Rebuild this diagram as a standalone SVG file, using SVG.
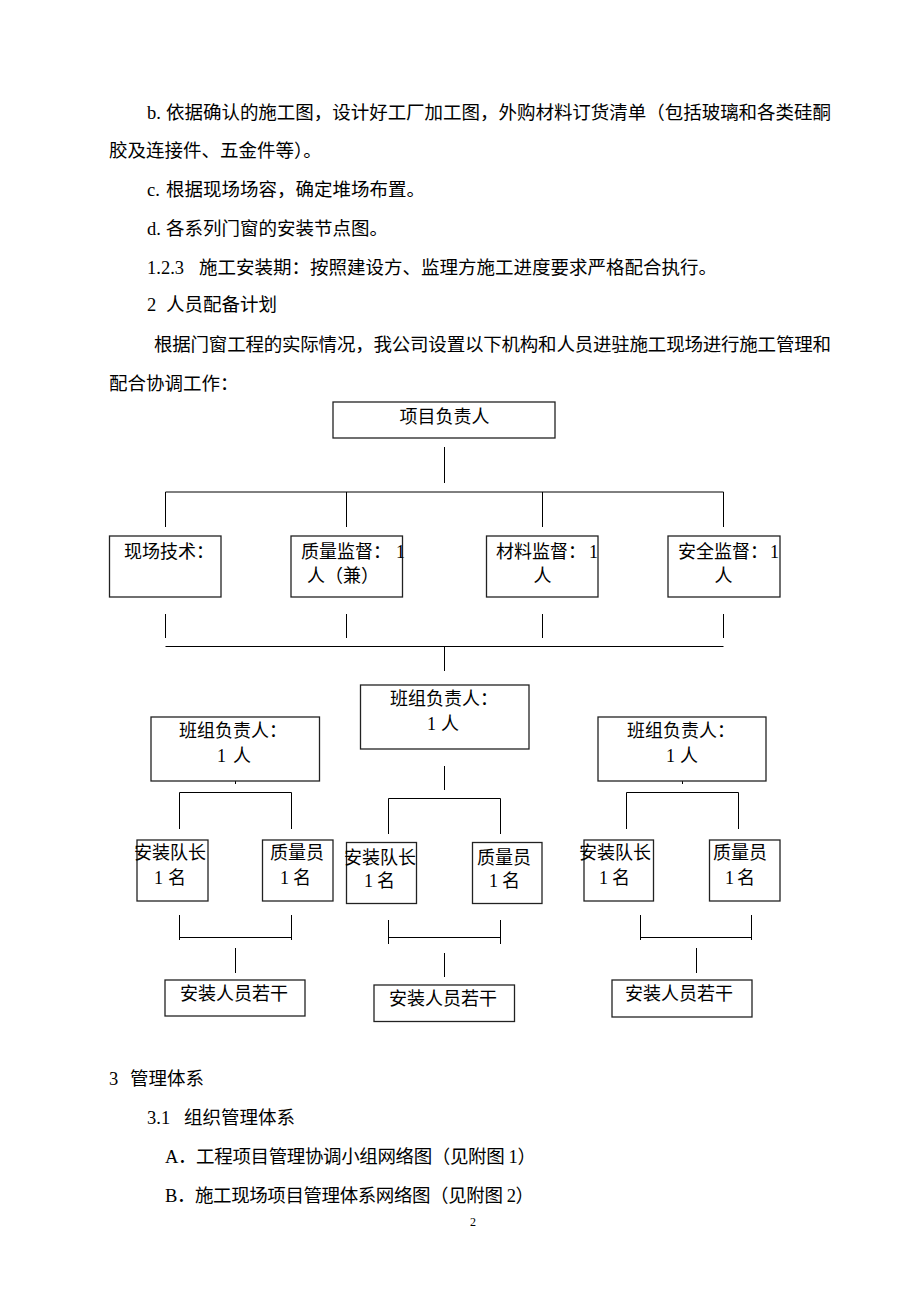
<svg xmlns="http://www.w3.org/2000/svg" width="920" height="1302" viewBox="0 0 920 1302">
<style>
.t{font-family:"Liberation Serif","Noto Sans CJK SC",serif;font-size:18.5px;fill:#000}
.c{font-family:"Liberation Serif","Noto Sans CJK SC",serif;font-size:18px;fill:#000}
.m{text-anchor:middle}
.box{fill:#fff;stroke:#222;stroke-width:1.3}
.ln{fill:none;stroke:#000;stroke-width:1}
</style>
<rect width="920" height="1302" fill="#fff"/>
<g id="body-text">
<text class="t" y="119"><tspan x="147">b.</tspan><tspan x="166" textLength="665" lengthAdjust="spacing">依据确认的施工图，设计好工厂加工图，外购材料订货清单（包括玻璃和各类硅酮</tspan></text>
<text class="t" x="109" y="157">胶及连接件、五金件等）。</text>
<text class="t" y="196"><tspan x="147">c.</tspan><tspan x="166">根据现场场容，确定堆场布置。</tspan></text>
<text class="t" y="235"><tspan x="147">d.</tspan><tspan x="166">各系列门窗的安装节点图。</tspan></text>
<text class="t" y="274"><tspan x="147">1.2.3</tspan><tspan x="199">施工安装期：按照建设方、监理方施工进度要求严格配合执行。</tspan></text>
<text class="t" y="311"><tspan x="147">2</tspan><tspan x="166">人员配备计划</tspan></text>
<text class="t" x="154" y="351" textLength="677" lengthAdjust="spacing">根据门窗工程的实际情况，我公司设置以下机构和人员进驻施工现场进行施工管理和</text>
<text class="t" x="109" y="390">配合协调工作：</text>
</g>
<g id="connectors">
<path class="ln" d="M444.5 447V483"/>
<path class="ln" d="M165.5 492H723.5"/>
<path class="ln" d="M165.5 492V527M346.5 492V527M542.5 492V527M723.5 492V527"/>
<path class="ln" d="M165.5 614V638M346.5 614V638M542.5 614V638M723.5 614V638"/>
<path class="ln" d="M165.5 646.5H723.5"/>
<path class="ln" d="M444.5 646.5V671"/>
<path class="ln" d="M235.5 760V784"/>
<path class="ln" d="M179.5 829V792.5H291.5V829"/>
<path class="ln" d="M444.5 766V790"/>
<path class="ln" d="M388.5 834V798.5H500.5V834"/>
<path class="ln" d="M682.5 760V784"/>
<path class="ln" d="M626.5 829V792.5H738.5V829"/>
<path class="ln" d="M179.5 915V940M291.5 915V940M179.5 937.5H291.5"/>
<path class="ln" d="M388.5 920V944M500.5 920V944M388.5 937.5H500.5"/>
<path class="ln" d="M640.5 915V940M751.5 915V940M640.5 937.5H751.5"/>
<path class="ln" d="M235.5 948V973"/>
<path class="ln" d="M444.5 953V977"/>
<path class="ln" d="M696.5 948V973"/>
</g>
<g id="n-xmfzr">
<rect class="box" x="333" y="402" width="222" height="36"/>
<text class="c m" x="444.5" y="423">项目负责人</text>
</g>
<g id="n-xcjs">
<rect class="box" x="109.5" y="536" width="111.5" height="61"/>
<text class="c" x="124" y="558">现场技术：</text>
</g>
<g id="n-zljd">
<rect class="box" x="291" y="536" width="111.5" height="61"/>
<text class="c" y="558"><tspan x="301">质量监督：</tspan><tspan x="396">1</tspan></text>
<text class="c m" x="343" y="582">人（兼）</text>
</g>
<g id="n-cljd">
<rect class="box" x="486.5" y="536" width="111.5" height="61"/>
<text class="c" y="558"><tspan x="496">材料监督：</tspan><tspan x="589">1</tspan></text>
<text class="c m" x="542.5" y="582">人</text>
</g>
<g id="n-aqjd">
<rect class="box" x="668" y="536" width="112" height="61"/>
<text class="c" y="558"><tspan x="678">安全监督：</tspan><tspan x="770">1</tspan></text>
<text class="c m" x="723.5" y="582">人</text>
</g>
<g id="n-bz-center">
<rect class="box" x="360.5" y="685" width="168.5" height="64"/>
<text class="c" x="390" y="705">班组负责人：</text>
<text class="c" y="730"><tspan x="427">1</tspan><tspan x="441">人</tspan></text>
</g>
<g id="n-bz-left">
<rect class="box" x="151" y="717" width="168.5" height="64"/>
<text class="c" x="179" y="737">班组负责人：</text>
<text class="c" y="762"><tspan x="217">1</tspan><tspan x="233">人</tspan></text>
</g>
<g id="n-bz-right">
<rect class="box" x="598" y="717" width="168" height="64"/>
<text class="c" x="627" y="737">班组负责人：</text>
<text class="c" y="762"><tspan x="666">1</tspan><tspan x="680">人</tspan></text>
</g>
<g id="n-dz-left">
<rect class="box" x="137" y="840" width="71" height="61"/>
<text class="c" x="134" y="859">安装队长</text>
<text class="c" y="884"><tspan x="154">1</tspan><tspan x="168">名</tspan></text>
</g>
<g id="n-zly-left">
<rect class="box" x="262.5" y="840" width="70.5" height="61"/>
<text class="c" x="270" y="859">质量员</text>
<text class="c" y="884"><tspan x="280">1</tspan><tspan x="293">名</tspan></text>
</g>
<g id="n-dz-center">
<rect class="box" x="346.5" y="842.5" width="70" height="61"/>
<text class="c" x="344" y="864">安装队长</text>
<text class="c" y="887"><tspan x="364">1</tspan><tspan x="377">名</tspan></text>
</g>
<g id="n-zly-center">
<rect class="box" x="472.5" y="842.5" width="69.5" height="61"/>
<text class="c" x="477" y="864">质量员</text>
<text class="c" y="887"><tspan x="489">1</tspan><tspan x="502">名</tspan></text>
</g>
<g id="n-dz-right">
<rect class="box" x="584" y="840" width="69.5" height="61"/>
<text class="c" x="579" y="859">安装队长</text>
<text class="c" y="884"><tspan x="599">1</tspan><tspan x="612">名</tspan></text>
</g>
<g id="n-zly-right">
<rect class="box" x="709.5" y="840" width="70.5" height="61"/>
<text class="c" x="713" y="859">质量员</text>
<text class="c" y="884"><tspan x="725">1</tspan><tspan x="737">名</tspan></text>
</g>
<g id="n-ry-left">
<rect class="box" x="165" y="980" width="140" height="36"/>
<text class="c" x="180" y="1000">安装人员若干</text>
</g>
<g id="n-ry-center">
<rect class="box" x="374" y="985" width="140.5" height="36.5"/>
<text class="c" x="389" y="1005">安装人员若干</text>
</g>
<g id="n-ry-right">
<rect class="box" x="612" y="980" width="140" height="37"/>
<text class="c" x="625" y="1000">安装人员若干</text>
</g>
<g id="footer-text">
<text class="t" y="1085"><tspan x="109">3</tspan><tspan x="130">管理体系</tspan></text>
<text class="t" y="1124"><tspan x="147">3.1</tspan><tspan x="184">组织管理体系</tspan></text>
<text class="t" x="165" y="1163" textLength="371" lengthAdjust="spacing">A．工程项目管理协调小组网络图（见附图 1）</text>
<text class="t" x="165" y="1202" textLength="369" lengthAdjust="spacing">B．施工现场项目管理体系网络图（见附图 2）</text>
<text x="470" y="1226" style="font-family:'Liberation Serif',serif;font-size:12px">2</text>
</g>
</svg>
